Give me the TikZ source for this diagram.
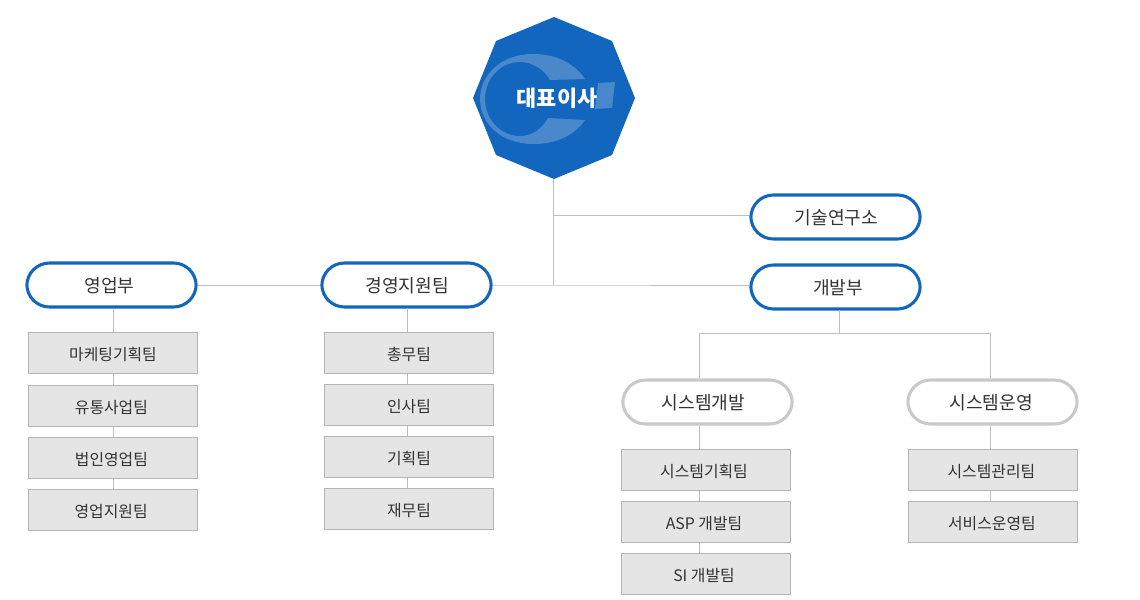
\documentclass[tikz,border=0pt]{standalone}
\usepackage{fontspec}
\setmainfont{Noto Sans CJK KR}
\definecolor{bluemain}{HTML}{1266BE}
\definecolor{logotint}{HTML}{4A88CC}
\definecolor{linegray}{HTML}{BDBDBD}
\definecolor{boxgray}{HTML}{E5E5E5}
\definecolor{boxedge}{HTML}{B4B4B4}
\definecolor{pillgray}{HTML}{C9C9C9}
\definecolor{txt}{HTML}{333333}
\newcommand{\shifted}[2]{\kern#1pt #2\kern-#1pt}
\tikzset{
  x=0.75pt,y=-0.75pt,
  pillblue/.style={draw=bluemain,line width=2.3pt,fill=white,rounded corners=17pt,minimum width=127pt,minimum height=33pt,inner sep=0pt,text=txt,text height=11.8pt,text depth=0pt,font=\fontsize{13.6pt}{15pt}\selectfont},
  pillgrey/.style={pillblue,draw=pillgray},
  teambox/.style={draw=boxedge,line width=0.75pt,fill=boxgray,minimum width=126.5pt,minimum height=30.5pt,inner sep=0pt,text=txt,text height=10.5pt,text depth=0pt,font=\fontsize{11.9pt}{13pt}\selectfont},
  link/.style={draw=linegray,line width=0.75pt},
}
\begin{document}
\begin{tikzpicture}
\useasboundingbox (0,0) rectangle (1140,600);
\coordinate (ceob) at (553.5,179);
\coordinate (j1) at (553.5,215);
\coordinate (j2) at (553.5,285);
\coordinate (bx) at (407.5,308);
\coordinate (d0) at (839.5,310);
\coordinate (d1) at (839.5,333);
\coordinate (d2) at (699.5,333);
\coordinate (d3) at (990.5,333);
\coordinate (sd) at (699.5,426);
\coordinate (so) at (990.5,426);

\node[pillblue] (sales) at (111.5,285) {\shifted{-1.5}{영업부}};
\node[pillblue] (mgmt) at (406.5,285) {\shifted{0.4}{경영지원팀}};
\node[pillblue,text height=10.8pt] (lab) at (835.5,217) {\shifted{0.7}{기술연구소}};
\node[pillblue] (dev) at (835.5,287) {\shifted{2}{개발부}};
\node[pillgrey] (sysdev) at (707.5,402) {\shifted{-3}{시스템개발}};
\node[pillgrey] (sysop) at (992.5,402) {\shifted{-1}{시스템운영}};

\node[teambox] (a1) at (113,353) {마케팅기획팀};
\node[teambox] (a2) at (113,406) {\shifted{-1.2}{유통사업팀}};
\node[teambox] (a3) at (113,458) {\shifted{-1.2}{법인영업팀}};
\node[teambox] (a4) at (113,510) {\shifted{-1.4}{영업지원팀}};
\node[teambox] (b1) at (409,353) {총무팀};
\node[teambox] (b2) at (409,405) {인사팀};
\node[teambox] (b3) at (409,457) {기획팀};
\node[teambox] (b4) at (409,509) {재무팀};
\node[teambox] (c1) at (706,470) {\shifted{-1.5}{시스템기획팀}};
\node[teambox] (c2) at (706,522) {\shifted{-1.5}{ASP 개발팀}};
\node[teambox] (c3) at (706,574) {\shifted{-1.5}{SI 개발팀}};
\node[teambox] (e1) at (993,470) {\shifted{-1.2}{시스템관리팀}};
\node[teambox] (e2) at (993,522) {\shifted{-0.8}{서비스운영팀}};

% octagon
\fill[bluemain] (554,17) -- (612,41) -- (635,98) -- (612,155) -- (554,179) -- (496,155) -- (473,98) -- (496,41) -- cycle;
% logo
\fill[logotint] (585,79) .. controls (574,63) and (556,54) .. (533,54) .. controls (502,54) and (480,74) .. (480,99) .. controls (480,124) and (502,144) .. (533,144) .. controls (556,144) and (574,136) .. (585,120) -- (548,118) .. controls (542,129) and (532,136) .. (520,136) .. controls (500,136) and (485,119) .. (485,99) .. controls (485,79) and (500,62) .. (520,62) .. controls (533,62) and (544,70) .. (550,80) -- cycle;
\fill[logotint] (598,83) -- (615,82) -- (612,108) -- (595,109) -- cycle;
\node[text=white,font=\fontsize{16.4pt}{18pt}\bfseries\selectfont] (ceo) at (557,98) {대표이사};

% connectors
\draw[link] (ceob) -- (j2);
\draw[link] (j1) -- (j1 -| lab.west);
\draw[link] (sales.east) -- (mgmt.west);
\draw[link] (mgmt.east) -- (j2) -- (j2 -| dev.west);
\draw[link] (a1.north |- sales.south) -- (a1.north);
\draw[link] (a1.south) -- (a2.north);
\draw[link] (a2.south) -- (a3.north);
\draw[link] (a3.south) -- (a4.north);
\draw[link] (bx) -- (bx |- b1.north);
\draw[link] (bx |- b1.south) -- (bx |- b2.north);
\draw[link] (bx |- b2.south) -- (bx |- b3.north);
\draw[link] (bx |- b3.south) -- (bx |- b4.north);
\draw[link] (d0) -- (d1);
\draw[link] (d2) -- (d3);
\draw[link] (d2) -- (d2 |- sysdev.north);
\draw[link] (d3) -- (d3 |- sysop.north);
\draw[link] (sd) -- (sd |- c1.north);
\draw[link] (so) -- (so |- e1.north);
\draw[link] (sd |- c1.south) -- (sd |- c2.north);
\draw[link] (sd |- c2.south) -- (sd |- c3.north);
\draw[link] (so |- e1.south) -- (so |- e2.north);
\end{tikzpicture}
\end{document}
